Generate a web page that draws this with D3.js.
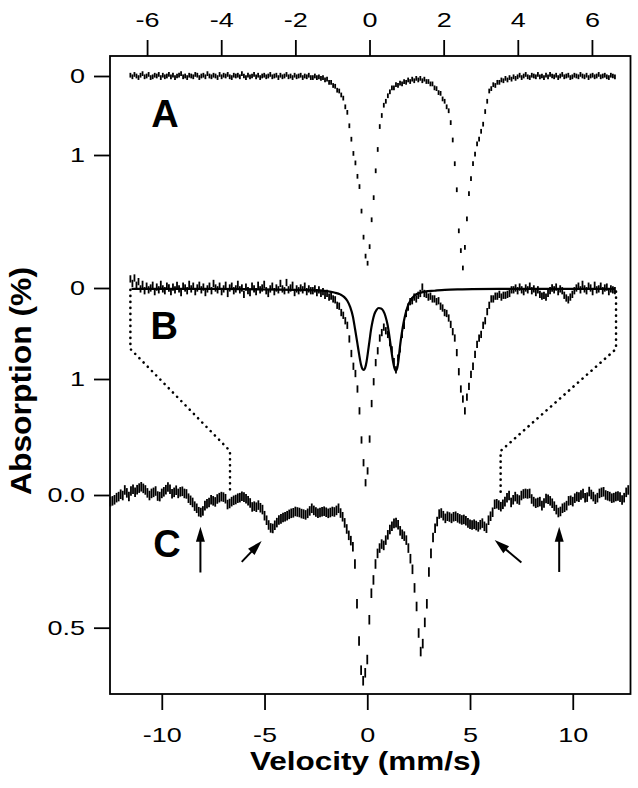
<!DOCTYPE html>
<html>
<head>
<meta charset="utf-8">
<script src="https://cdn.jsdelivr.net/npm/d3@7"></script>
<style>
  body { margin: 0; background: #fff; }
  svg { display: block; font-family: "Liberation Sans", Arial, sans-serif; }
</style>
</head>
<body>
<svg id="chart" width="638" height="788"></svg>
<script>
// tick values
const topTicks = [-6, -4, -2, 0, 2, 4, 6];
const bottomTicks = [-10, -5, 0, 5, 10];
const ticksA = [0, 1];
const ticksB = [0, 1];
const ticksC = [0, 0.5];

// velocity calibration of the channels (mm/s)
const velRangeAB = [-6.45, 6.62];
const velRangeC = [-12.5, 12.7];

// absorption (%) per channel
const absA = [
  -0.01, 0.01, -0.02, 0.00, 0.02, -0.01, -0.03, 0.01, 0.00, -0.02,
  0.02, 0.01, -0.01, 0.00, -0.02, 0.02, -0.01, 0.01, 0.00, -0.02,
  0.01, -0.01, 0.02, 0.00, -0.01, -0.03, 0.01, 0.00, 0.02, -0.01,
  0.00, 0.01, -0.02, -0.01, 0.02, 0.00, -0.01, 0.01, -0.03, 0.00,
  0.01, -0.01, 0.00, 0.02, -0.02, 0.01, -0.01, 0.00, -0.02, 0.01,
  0.02, -0.01, 0.00, -0.01, 0.01, -0.03, 0.00, 0.02, -0.01, 0.01,
  0.00, -0.02, 0.01, -0.01, 0.02, 0.00, -0.01, 0.01, 0.00, -0.02,
  0.01, 0.00, -0.01, 0.02, -0.01, 0.01, 0.00, -0.02, 0.01, 0.00,
  0.02, -0.01, 0.01, 0.00, -0.01, 0.02, 0.00, 0.01, -0.01, 0.02,
  0.02, 0.00, 0.02, 0.01, 0.03, 0.02, 0.05, 0.04, 0.08, 0.08,
  0.12, 0.13, 0.18, 0.19, 0.24, 0.28, 0.39, 0.46, 0.63, 0.80,
  0.98, 1.10, 1.27, 1.40, 1.71, 2.04, 2.28, 2.37, 2.16, 1.82,
  1.54, 1.20, 0.93, 0.64, 0.50, 0.37, 0.32, 0.25, 0.20, 0.15,
  0.15, 0.11, 0.12, 0.09, 0.10, 0.07, 0.08, 0.05, 0.07, 0.04,
  0.06, 0.03, 0.05, 0.03, 0.06, 0.04, 0.07, 0.07, 0.10, 0.10,
  0.15, 0.16, 0.21, 0.22, 0.29, 0.32, 0.39, 0.44, 0.59, 0.81,
  1.11, 1.44, 1.96, 2.21, 2.43, 2.17, 1.81, 1.49, 1.30, 1.11,
  0.99, 0.86, 0.80, 0.70, 0.61, 0.45, 0.32, 0.19, 0.16, 0.11,
  0.12, 0.08, 0.08, 0.05, 0.06, 0.03, 0.05, 0.02, 0.04, 0.01,
  0.03, 0.01, -0.01, 0.02, 0.00, -0.02, 0.01, 0.02, -0.01, 0.00,
  0.01, -0.02, 0.01, 0.00, 0.02, -0.01, 0.01, -0.02, 0.00, 0.01,
  -0.01, 0.02, 0.00, -0.02, 0.01, 0.00, -0.01, 0.02, 0.01, -0.01,
  0.00, 0.01, -0.02, 0.00, 0.01, -0.01, 0.02, 0.00, -0.01, 0.01,
  0.00, -0.02, 0.01, 0.00, -0.01, 0.01, 0.02, -0.01, 0.00, 0.01
];

const absB = [
  -0.10, -0.05, -0.11, -0.03, -0.07, 0.01, -0.04, 0.03, -0.02, 0.02,
  0.00, -0.03, 0.04, -0.01, 0.02, -0.04, 0.01, 0.03, -0.02, 0.00,
  0.04, -0.01, 0.02, -0.03, 0.01, 0.05, -0.02, 0.00, 0.03, -0.04,
  0.01, -0.02, 0.04, 0.00, -0.03, 0.02, -0.01, 0.05, 0.01, -0.02,
  0.03, -0.05, 0.00, 0.02, -0.02, 0.04, 0.01, -0.03, 0.06, 0.00,
  -0.02, 0.03, 0.01, -0.04, 0.02, 0.00, 0.07, -0.01, 0.03, 0.05,
  -0.02, 0.01, 0.04, -0.03, 0.02, 0.00, -0.04, 0.03, 0.06, 0.01,
  -0.02, 0.04, 0.00, 0.02, -0.05, 0.01, 0.03, -0.06, 0.02, 0.00,
  -0.03, 0.05, 0.01, 0.03, 0.00, 0.02, -0.02, 0.04, 0.01, 0.03,
  0.03, 0.01, 0.05, 0.02, 0.06, 0.04, 0.08, 0.06, 0.10, 0.09,
  0.12, 0.13, 0.19, 0.20, 0.27, 0.30, 0.36, 0.41, 0.56, 0.72,
  0.86, 0.94, 1.11, 1.35, 1.67, 1.92, 2.14, 2.01, 1.66, 1.27,
  1.03, 0.82, 0.69, 0.55, 0.49, 0.43, 0.47, 0.51, 0.60, 0.68,
  0.81, 0.90, 0.77, 0.67, 0.51, 0.41, 0.28, 0.21, 0.15, 0.14,
  0.10, 0.12, 0.08, 0.06, -0.01, 0.06, 0.07, 0.10, 0.09, 0.12,
  0.12, 0.15, 0.14, 0.20, 0.22, 0.27, 0.28, 0.33, 0.40, 0.48,
  0.55, 0.71, 0.92, 1.11, 1.22, 1.35, 1.20, 1.08, 0.95, 0.86,
  0.73, 0.62, 0.55, 0.51, 0.41, 0.36, 0.26, 0.19, 0.12, 0.12,
  0.09, 0.09, 0.07, 0.10, 0.08, 0.08, 0.07, 0.06, 0.02, 0.02,
  0.00, 0.03, -0.01, 0.02, 0.04, 0.00, 0.02, -0.02, 0.03, 0.01,
  0.05, 0.02, 0.07, 0.09, 0.08, 0.10, 0.06, 0.03, 0.00, 0.02,
  -0.01, 0.04, 0.01, 0.03, 0.08, 0.11, 0.13, 0.10, 0.07, 0.03,
  0.00, -0.02, 0.02, -0.04, 0.01, 0.03, -0.02, 0.00, 0.04, -0.03,
  0.02, 0.01, -0.02, 0.03, 0.00, -0.01, 0.04, 0.01, 0.02, 0.03
];

const absC = [
  0.025, 0.022, 0.018, 0.010, 0.006, -0.003, 0.002, -0.019, -0.008, 0.006,
  -0.015, -0.022, -0.010, -0.020, -0.026, -0.031, -0.025, -0.019, -0.008, 0.002,
  -0.006, -0.010, -0.015, 0.004, 0.006, -0.006, -0.012, -0.020, -0.030, -0.022,
  -0.005, -0.010, -0.018, -0.006, -0.012, -0.014, -0.006, -0.004, 0.012, 0.020,
  0.028, 0.042, 0.050, 0.063, 0.066, 0.060, 0.040, 0.033, 0.028, 0.018,
  0.022, 0.026, 0.015, 0.010, 0.006, 0.008, 0.014, 0.036, 0.032, 0.025,
  0.020, 0.017, 0.012, 0.010, 0.005, 0.008, 0.014, 0.022, 0.030, 0.045,
  0.042, 0.046, 0.038, 0.048, 0.055, 0.078, 0.095, 0.113, 0.124, 0.126,
  0.114, 0.104, 0.094, 0.090, 0.085, 0.082, 0.078, 0.073, 0.069, 0.067,
  0.062, 0.064, 0.066, 0.070, 0.072, 0.075, 0.069, 0.060, 0.050, 0.058,
  0.064, 0.069, 0.066, 0.063, 0.061, 0.065, 0.069, 0.066, 0.062, 0.064,
  0.058, 0.050, 0.068, 0.082, 0.105, 0.128, 0.152, 0.172, 0.195, 0.26,
  0.41, 0.55, 0.66, 0.70, 0.67, 0.62, 0.47, 0.37, 0.32, 0.26,
  0.22, 0.20, 0.185, 0.19, 0.17, 0.15, 0.13, 0.118, 0.107, 0.104,
  0.112, 0.135, 0.148, 0.155, 0.17, 0.20, 0.24, 0.28, 0.35, 0.42,
  0.52, 0.59, 0.56, 0.48, 0.41, 0.29, 0.22, 0.16, 0.125, 0.10,
  0.072, 0.068, 0.078, 0.088, 0.080, 0.083, 0.088, 0.082, 0.080, 0.086,
  0.090, 0.094, 0.092, 0.097, 0.105, 0.110, 0.113, 0.110, 0.115, 0.120,
  0.112, 0.106, 0.118, 0.125, 0.095, 0.080, 0.065, 0.035, 0.033, 0.038,
  0.044, 0.035, 0.025, 0.010, 0.002, 0.028, 0.018, 0.006, 0.015, 0.019,
  0.002, -0.004, -0.006, -0.004, -0.006, 0.015, 0.025, 0.031, 0.028, 0.025,
  0.040, 0.030, 0.013, 0.016, 0.022, 0.031, 0.042, 0.055, 0.066, 0.062,
  0.050, 0.046, 0.040, 0.022, 0.020, 0.025, 0.012, 0.006, 0.008, 0.000,
  -0.006, 0.010, 0.008, -0.013, -0.002, 0.006, 0.016, 0.010, -0.006, -0.010,
  -0.012, 0.000, 0.003, 0.006, 0.012, 0.010, 0.006, 0.004, 0.008, 0.019,
  0.010, -0.010, -0.019
];

// error bar half heights (%)
const errA = 0.03;
const errB = 0.04;
const errC = 0.018;

// fitted two-line component drawn over panel B
const fitV = [-6.42, -4, -3, -2, -1.5, -1.15, -0.95, -0.79, -0.68, -0.6, -0.52, -0.45, -0.39, -0.33,
  -0.28, -0.23, -0.19, -0.16, -0.12, -0.08, -0.04, 0.0, 0.04, 0.08, 0.13, 0.19, 0.25, 0.31, 0.37,
  0.43, 0.49, 0.54, 0.59, 0.64, 0.68, 0.71, 0.74, 0.78, 0.82, 0.87, 0.92, 0.98, 1.04, 1.12, 1.22,
  1.35, 1.5, 1.75, 2.03, 2.5, 3.5, 5, 6.62];
const fitB = [0.01, 0.01, 0.015, 0.02, 0.025, 0.035, 0.05, 0.07, 0.10, 0.14, 0.21, 0.31, 0.45, 0.60,
  0.73, 0.84, 0.89, 0.90, 0.88, 0.81, 0.70, 0.58, 0.46, 0.37, 0.29, 0.24, 0.22, 0.225, 0.25,
  0.31, 0.41, 0.54, 0.69, 0.82, 0.89, 0.91, 0.89, 0.80, 0.65, 0.50, 0.38, 0.27, 0.19, 0.13, 0.08,
  0.055, 0.04, 0.03, 0.02, 0.015, 0.01, 0.01, 0.01];

// dotted guides from panel B's velocity range down to panel C: [panel, velocity, absorption]
const guideLeft = [["B", -6.45, 0.02], ["B", -6.45, 0.67], ["C", -6.68, -0.166], ["C", -6.68, -0.01]];
const guideRight = [["B", 6.65, 0.04], ["B", 6.65, 0.67], ["C", 6.49, -0.166], ["C", 6.49, -0.008]];

// arrows in panel C: [tail velocity, tail absorption, tip velocity, tip absorption]
const arrowsC = [
  [-8.12, 0.292, -8.12, 0.12],
  [-6.11, 0.252, -5.14, 0.173],
  [7.50, 0.254, 6.20, 0.170],
  [9.34, 0.290, 9.34, 0.12]
];

const panelNames = ["A", "B", "C"];

// ---- layout ----
const svg = d3.select("#chart");
const box = { left: 110, right: 630.5, top: 56, bottom: 694 };
const tickLen = 16;
const labelStretch = 1.35;

const xTop = d3.scaleLinear().domain([-7, 7.04]).range([box.left, box.right]);
const xBot = d3.scaleLinear().domain([-12.52, 12.81]).range([box.left, box.right]);
const yA = d3.scaleLinear().domain([0, 1]).range([76, 155]);
const yB = d3.scaleLinear().domain([0, 1]).range([288, 379]);
const yC = d3.scaleLinear().domain([0, 0.5]).range([495, 627.7]);

const chanAB = d3.scaleLinear().domain([0, absA.length - 1]).range(velRangeAB);
const chanC = d3.scaleLinear().domain([0, absC.length - 1]).range(velRangeC);

function styleAxis(g, stretchX) {
  g.select(".domain").remove();
  g.attr("font-family", "'Liberation Sans', Arial, sans-serif").attr("font-size", 20);
  g.selectAll("line").attr("stroke", "#000").attr("stroke-width", 1.8);
  g.selectAll("text").attr("fill", "#000").attr("transform", `scale(${labelStretch},1)`);
  if (stretchX) {
    g.selectAll("text").attr("x", function() { return +d3.select(this).attr("x") / labelStretch; });
  }
}

// top axis (panels A, B)
svg.append("g")
  .attr("transform", `translate(0,${box.top})`)
  .call(d3.axisTop(xTop).tickValues(topTicks).tickSize(tickLen).tickPadding(13).tickFormat(d => String(d)))
  .call(g => styleAxis(g, false));

// bottom axis (panel C)
svg.append("g")
  .attr("transform", `translate(0,${box.bottom})`)
  .call(d3.axisBottom(xBot).tickValues(bottomTicks).tickSize(tickLen).tickPadding(18).tickFormat(d => String(d)))
  .call(g => styleAxis(g, false));

// left axes, one per panel
[[yA, ticksA, d => String(d)], [yB, ticksB, d => String(d)], [yC, ticksC, d => d.toFixed(1)]]
  .forEach(([scale, ticks, fmt]) => {
    svg.append("g")
      .attr("transform", `translate(${box.left},0)`)
      .call(d3.axisLeft(scale).tickValues(ticks).tickSize(tickLen).tickPadding(9).tickFormat(fmt))
      .call(g => styleAxis(g, true));
  });

// frame
svg.append("rect")
  .attr("x", box.left).attr("y", box.top)
  .attr("width", box.right - box.left).attr("height", box.bottom - box.top)
  .attr("fill", "none").attr("stroke", "#000").attr("stroke-width", 1.8);

// dotted guides
const panelScales = { B: [xTop, yB], C: [xBot, yC] };
const guideLine = d3.line()
  .x(d => panelScales[d[0]][0](d[1]))
  .y(d => panelScales[d[0]][1](d[2]));
svg.selectAll(".guide").data([guideLeft, guideRight]).join("path")
  .attr("class", "guide")
  .attr("d", guideLine)
  .attr("fill", "none").attr("stroke", "#000").attr("stroke-width", 2.6)
  .attr("stroke-linecap", "round").attr("stroke-dasharray", "0.1 5.9");

// error bars
function drawBars(data, chan, xs, ys, err) {
  svg.append("g").selectAll("line").data(data).join("line")
    .attr("x1", (d, i) => xs(chan(i))).attr("x2", (d, i) => xs(chan(i)))
    .attr("y1", d => ys(d - err)).attr("y2", d => ys(d + err))
    .attr("stroke", "#000").attr("stroke-width", 1.8);
}
drawBars(absA, chanAB, xTop, yA, errA);
drawBars(absB, chanAB, xTop, yB, errB);
drawBars(absC, chanC, xBot, yC, errC);

// fit curve in panel B
svg.append("path")
  .datum(d3.zip(fitV, fitB))
  .attr("d", d3.line().x(d => xTop(d[0])).y(d => yB(d[1])).curve(d3.curveMonotoneX))
  .attr("fill", "none").attr("stroke", "#000").attr("stroke-width", 2.2);

// arrows in panel C
const headLen = 15, headHalf = 4.5;
arrowsC.forEach(([v0, a0, v1, a1]) => {
  const x0 = xBot(v0), y0 = yC(a0), x1 = xBot(v1), y1 = yC(a1);
  const len = Math.hypot(x1 - x0, y1 - y0);
  const ux = (x1 - x0) / len, uy = (y1 - y0) / len;
  const bx = x1 - ux * headLen, by = y1 - uy * headLen;
  svg.append("line")
    .attr("x1", x0).attr("y1", y0).attr("x2", bx + ux * 2).attr("y2", by + uy * 2)
    .attr("stroke", "#000").attr("stroke-width", 2);
  svg.append("path")
    .attr("d", `M${x1},${y1}L${bx - uy * headHalf},${by + ux * headHalf}L${bx + uy * headHalf},${by - ux * headHalf}Z`)
    .attr("fill", "#000");
});

// panel letters
const labelPos = [[xTop(-5.52), yA(0.646)], [xTop(-5.54), yB(0.56)], [xBot(-9.75), yC(0.234)]];
svg.selectAll(".panel-name").data(panelNames).join("text")
  .attr("class", "panel-name")
  .attr("x", (d, i) => labelPos[i][0]).attr("y", (d, i) => labelPos[i][1])
  .attr("text-anchor", "middle")
  .attr("font-size", 38).attr("font-weight", "bold")
  .text(d => d);

// axis titles
svg.append("text")
  .attr("transform", "translate(31,381) rotate(-90)")
  .attr("text-anchor", "middle")
  .attr("font-size", 29).attr("font-weight", "bold")
  .attr("textLength", 228).attr("lengthAdjust", "spacingAndGlyphs")
  .text("Absorption (%)");

svg.append("text")
  .attr("x", 365.5).attr("y", 770)
  .attr("text-anchor", "middle")
  .attr("font-size", 26).attr("font-weight", "bold")
  .attr("textLength", 231).attr("lengthAdjust", "spacingAndGlyphs")
  .text("Velocity (mm/s)");
</script>
</body>
</html>
